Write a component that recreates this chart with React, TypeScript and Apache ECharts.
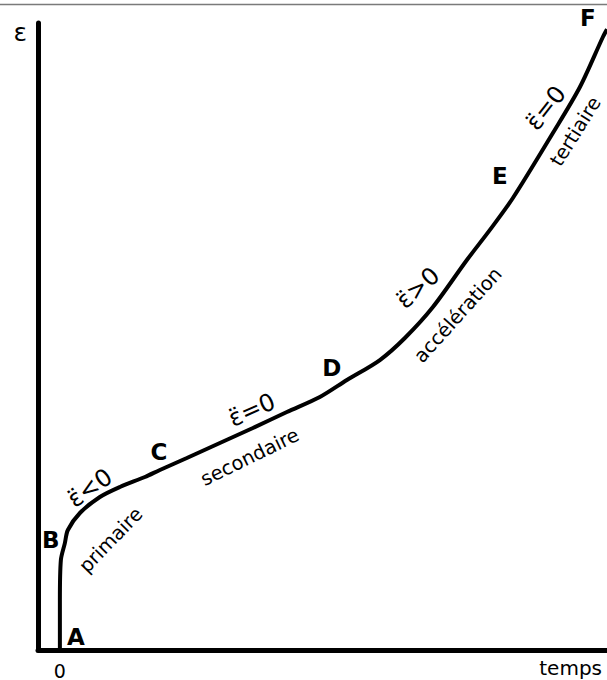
import React, { useEffect, useRef } from "react";
import * as echarts from "echarts";

// Creep curve: time (arbitrary units) vs strain (arbitrary units)
const timeValues = [0, 0, 0.18, 0.9, 1.46, 3.66, 7.31, 10.97, 15.54, 18.28, 23.21, 29.24, 35.28, 41.49, 47.52, 52.46, 58.49, 63.06, 68.18, 74.39, 78.6, 82.8, 90.11, 95.05, 99.25, 100];
const strainValues = [0, 7.97, 14.35, 17.0, 19.14, 21.85, 24.4, 26.0, 27.59, 28.71, 30.62, 33.01, 35.41, 37.96, 40.35, 43.06, 46.25, 49.76, 54.7, 62.2, 67.0, 72.09, 82.46, 89.79, 97.77, 99.0];

const xTickLabels = [0];
const xAxisName = "temps";
const yAxisName = "ε";

// Point letters (anchored in data coordinates)
const pointNames = ["A", "B", "C", "D", "E", "F"];
const pointX = [2.92, -1.65, 18.1, 49.72, 80.42, 96.51];
const pointY = [2.07, 17.54, 31.58, 44.98, 75.6, 100.8];

// Stage annotations along the curve
const noteTexts = ["ε̈<0", "primaire", "ε̈=0", "secondaire", "ε̈>0", "accélération", "ε̈=0", "tertiaire"];
const noteX = [5.48, 9.32, 35.09, 34.73, 65.44, 72.75, 88.83, 94.25];
const noteY = [25.84, 17.54, 38.28, 30.78, 57.74, 53.43, 86.44, 82.7];
const noteAngle = [35, 46, 24, 26, 42, 48, 52, 58];
const noteIsSymbol = [true, false, true, false, true, false, true, false];

const FONT = "'DejaVu Sans', Verdana, sans-serif";

export default function App() {
  const ref = useRef<HTMLDivElement>(null);
  useEffect(() => {
    document.body.style.margin = "0";
    const chart = echarts.init(ref.current!, undefined, { renderer: "svg" });
    const data = timeValues.map((t, i) => [t, strainValues[i]]);
    chart.setOption({
      animation: false,
      grid: { left: 38, right: 0, top: 23, bottom: 30, containLabel: false },
      xAxis: {
        type: "value",
        min: -4,
        max: 100,
        name: xAxisName,
        nameLocation: "end",
        nameGap: -5,
        nameTextStyle: {
          color: "#000",
          fontFamily: FONT,
          fontSize: 20,
          align: "right",
          verticalAlign: "top",
          padding: [8, 0, 0, 0],
        },
        axisLine: { show: true, onZero: false, lineStyle: { color: "#000", width: 5 } },
        axisTick: { show: false },
        splitLine: { show: false },
        axisLabel: {
          customValues: xTickLabels,
          color: "#000",
          fontFamily: FONT,
          fontSize: 19,
          lineHeight: 19,
          margin: 11,
        },
      },
      yAxis: {
        type: "value",
        min: 0,
        max: 100,
        name: yAxisName,
        nameLocation: "end",
        nameGap: -9,
        nameTextStyle: {
          color: "#000",
          fontFamily: FONT,
          fontSize: 25,
          align: "right",
          verticalAlign: "middle",
          padding: [0, 11, 0, 0],
        },
        axisLine: { show: true, onZero: false, lineStyle: { color: "#000", width: 5 } },
        axisTick: { show: false },
        splitLine: { show: false },
        axisLabel: { show: false },
      },
      series: [
        {
          type: "line",
          data,
          smooth: 0.3,
          showSymbol: false,
          clip: false,
          lineStyle: { color: "#000", width: 4 },
        },
      ],
    });

    const graphics: any[] = [
      {
        type: "line",
        shape: { x1: 0, y1: 4.5, x2: 607, y2: 4.5 },
        style: { stroke: "#7a7a7a", lineWidth: 1.5 },
        z: 10,
      },
    ];
    pointNames.forEach((name, i) => {
      const p = chart.convertToPixel({ gridIndex: 0 }, [pointX[i], pointY[i]]) as number[];
      graphics.push({
        type: "text",
        x: p[0],
        y: p[1],
        z: 10,
        style: {
          text: name,
          font: `bold 23px ${FONT}`,
          fill: "#000",
          align: "center",
          verticalAlign: "middle",
        },
      });
    });
    noteTexts.forEach((txt, i) => {
      const p = chart.convertToPixel({ gridIndex: 0 }, [noteX[i], noteY[i]]) as number[];
      graphics.push({
        type: "text",
        x: p[0],
        y: p[1],
        rotation: (noteAngle[i] * Math.PI) / 180,
        z: 10,
        style: {
          text: txt,
          font: `${noteIsSymbol[i] ? 24 : 19.5}px ${FONT}`,
          fill: "#000",
          align: "center",
          verticalAlign: "middle",
        },
      });
    });
    chart.setOption({ graphic: graphics });

    return () => chart.dispose();
  }, []);
  return (
    <div
      ref={ref}
      style={{ position: "fixed", left: 0, top: 0, width: 607, height: 680, background: "#fff" }}
    />
  );
}
